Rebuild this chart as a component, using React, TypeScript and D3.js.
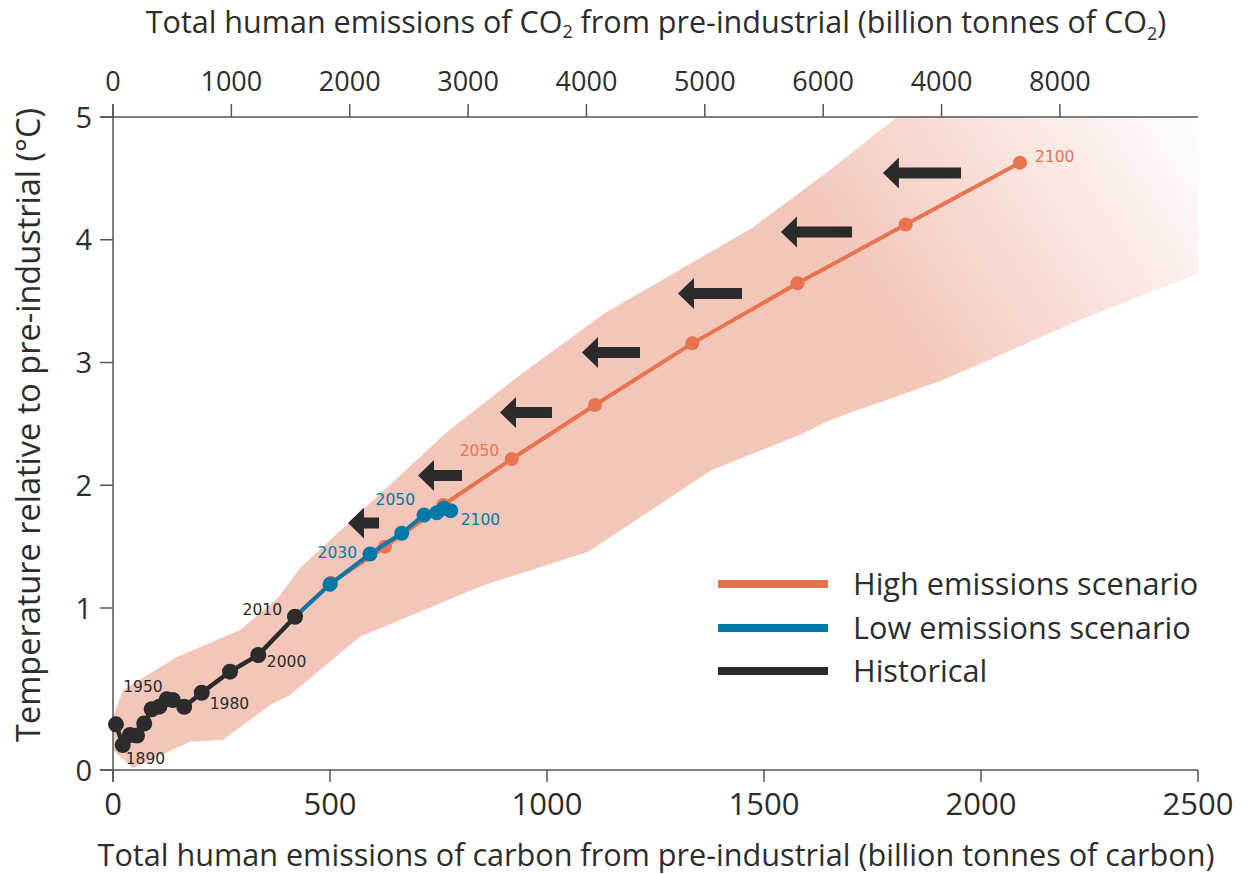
import React from "react";
import * as d3 from "d3";

// ---------- DATA ----------
// Historical (cumulative GtC, temperature °C)
const histYears = [1880, 1890, 1900, 1910, 1920, 1930, 1940, 1950, 1960, 1970, 1980, 1990, 2000, 2010];
const histCarbon = [6.9, 22.4, 39.2, 55.3, 71.9, 89.2, 106.7, 123.7, 137.6, 164, 204.4, 269.6, 334.8, 419.4];
const histTemp = [0.282, 0.154, 0.216, 0.213, 0.287, 0.375, 0.391, 0.436, 0.432, 0.39, 0.477, 0.607, 0.71, 0.946];

// Low emissions scenario (starts at 2010)
const lowYears = [2010, 2020, 2030, 2040, 2050, 2060, 2080, 2100];
const lowCarbon = [419.4, 500, 592.2, 665.2, 716.6, 745.9, 762.7, 778.1];
const lowTemp = [0.946, 1.193, 1.44, 1.609, 1.758, 1.776, 1.812, 1.793];

// High emissions scenario (starts at 2010)
const highYears = [2010, 2020, 2030, 2040, 2050, 2060, 2070, 2080, 2090, 2100];
const highCarbon = [419.4, 502.3, 626.7, 761, 918.7, 1110.6, 1334.8, 1577.2, 1826.5, 2089.9];
const highTemp = [0.946, 1.204, 1.499, 1.839, 2.214, 2.654, 3.156, 3.645, 4.124, 4.628];

// Uncertainty band
const bandUpperCarbon = [0, 23, 147.5, 292.6, 380.2, 430.9, 769.6, 937.8, 1133.6, 1472.4, 1652, 1806.5, 2500];
const bandUpperTemp = [0.327, 0.494, 0.698, 0.864, 1.081, 1.326, 2.434, 2.898, 3.403, 4.096, 4.568, 5.0, 5.0];
const bandLowerCarbon = [0, 46, 177.4, 253.5, 361.8, 407.8, 569, 845.6, 891.7, 1095, 1379.5, 1583, 1652, 1912.4, 2043.8, 2228, 2500];
const bandLowerTemp = [0.123, 0.012, 0.175, 0.185, 0.401, 0.463, 0.823, 1.174, 1.228, 1.459, 2.124, 2.409, 2.532, 2.857, 3.061, 3.346, 3.727];

// Arrows (tip carbon, tail carbon, temperature)
const arrowTip = [541.5, 702.8, 891.7, 1080.6, 1301.8, 1539, 1774];
const arrowTail = [613, 804.1, 1011.5, 1214.3, 1449.3, 1702.8, 1954];
const arrowTemp = [1.692, 2.079, 2.593, 3.081, 3.562, 4.063, 4.544];

// Axes
const bottomTicks = [0, 500, 1000, 1500, 2000, 2500];
const leftTicks = [0, 1, 2, 3, 4, 5];
const topTicks = [0, 1000, 2000, 3000, 4000, 5000, 6000, 7000, 8000];
const topTickLabels = ["0", "1000", "2000", "3000", "4000", "5000", "6000", "4000", "8000"];

const legendLabels = ["High emissions scenario", "Low emissions scenario", "Historical"];

// ---------- STYLE ----------
const ORANGE = "#e8734f";
const BLUE = "#0079a8";
const BLACK = "#2b2b2b";
const BAND = "#f4c6ba";
const AXIS = "#555";
const TEXT = "#2d2d2d";
const FONT = "'Open Sans', 'Noto Sans', sans-serif";
const LABEL_FONT = "'DejaVu Sans', sans-serif";

export default function App() {
  const x = d3.scaleLinear().domain([0, 2500]).range([113, 1198]);
  const y = d3.scaleLinear().domain([0, 1, 5]).range([770, 608, 117]);
  const xCO2 = d3.scaleLinear().domain([0, (2500 * 44) / 12]).range([113, 1198]);

  const line = d3
    .line<[number, number]>()
    .x((d) => x(d[0]))
    .y((d) => y(d[1]));

  const upper: [number, number][] = bandUpperCarbon.map((c, i) => [c, bandUpperTemp[i]]);
  const lower: [number, number][] = bandLowerCarbon.map((c, i) => [c, bandLowerTemp[i]]);
  const bandPath = line([...upper, ...lower.slice().reverse()]) + "Z";

  const hist: [number, number][] = histCarbon.map((c, i) => [c, histTemp[i]]);
  const low: [number, number][] = lowCarbon.map((c, i) => [c, lowTemp[i]]);
  const high: [number, number][] = highCarbon.map((c, i) => [c, highTemp[i]]);

  const histIdx = (yr: number) => histYears.indexOf(yr);
  const lowIdx = (yr: number) => lowYears.indexOf(yr);
  const highIdx = (yr: number) => highYears.indexOf(yr);

  const histLabels = [
    { yr: 1890, dx: 3, dy: 19, anchor: "start" },
    { yr: 1950, dx: -4, dy: -7, anchor: "end" },
    { yr: 1980, dx: 8, dy: 16, anchor: "start" },
    { yr: 2000, dx: 8.5, dy: 12, anchor: "start" },
    { yr: 2010, dx: -13, dy: -2, anchor: "end" },
  ];
  const lowLabels = [
    { yr: 2030, dx: -13, dy: 4, anchor: "end" },
    { yr: 2050, dx: -9, dy: -10, anchor: "end" },
    { yr: 2100, dx: 10, dy: 14, anchor: "start" },
  ];
  const highLabels = [
    { yr: 2050, dx: -12.5, dy: -3, anchor: "end" },
    { yr: 2100, dx: 15, dy: -1, anchor: "start" },
  ];

  const arrowPath = (i: number) => {
    const tx = x(arrowTip[i]);
    const ex = x(arrowTail[i]);
    const cy = y(arrowTemp[i]);
    const headLen = 16;
    const headH = 15.5;
    const shaft = 5.5;
    return `M${tx},${cy} L${tx + headLen},${cy - headH} L${tx + headLen},${cy - shaft} L${ex},${cy - shaft} L${ex},${cy + shaft} L${tx + headLen},${cy + shaft} L${tx + headLen},${cy + headH} Z`;
  };

  const legendColors = [ORANGE, BLUE, BLACK];
  const legendY = [584, 628, 671];

  return (
    <svg
      width={1247}
      height={874}
      style={{ position: "absolute", left: 0, top: 0, display: "block", background: "#fff" }}
      fontFamily={FONT}
    >
      <defs>
        <linearGradient id="bandGrad" gradientUnits="userSpaceOnUse" x1={890} y1={330} x2={1205} y2={115}>
          <stop offset="0" stopColor={BAND} stopOpacity={1} />
          <stop offset="1" stopColor={BAND} stopOpacity={0} />
        </linearGradient>
      </defs>

      {/* band */}
      <path d={bandPath} fill="url(#bandGrad)" />

      {/* arrows */}
      {arrowTip.map((_, i) => (
        <path key={"a" + i} d={arrowPath(i)} fill={BLACK} />
      ))}

      {/* axes */}
      <g stroke={AXIS} strokeWidth={1.5} fill="none">
        <line x1={100} x2={1198} y1={y(0)} y2={y(0)} />
        <line x1={100} x2={1198} y1={y(5)} y2={y(5)} />
        <line x1={x(0)} x2={x(0)} y1={y(5) - 13} y2={y(0) + 12} />
        {bottomTicks.map((t) => (
          <line key={"bt" + t} x1={x(t)} x2={x(t)} y1={y(0)} y2={y(0) + 12} />
        ))}
        {leftTicks.map((t) => (
          <line key={"lt" + t} x1={100} x2={x(0)} y1={y(t)} y2={y(t)} />
        ))}
        {topTicks.map((t) => (
          <line key={"tt" + t} x1={xCO2(t)} x2={xCO2(t)} y1={y(5)} y2={y(5) - 13} />
        ))}
      </g>

      {/* tick labels */}
      <g fill={TEXT} fontSize={31}>
        {bottomTicks.map((t) => (
          <text key={"btl" + t} x={x(t)} y={815} textAnchor="middle">
            {t}
          </text>
        ))}
      </g>
      <g fill={TEXT} fontSize={29}>
        {leftTicks.map((t) => (
          <text key={"ltl" + t} x={92} y={y(t) + 10.5} textAnchor="end">
            {t}
          </text>
        ))}
      </g>
      <g fill={TEXT} fontSize={27}>
        {topTicks.map((t, i) => (
          <text key={"ttl" + t} x={xCO2(t)} y={91} textAnchor="middle">
            {topTickLabels[i]}
          </text>
        ))}
      </g>

      {/* axis titles */}
      <text x={656} y={866} textAnchor="middle" fontSize={30.6} fill={TEXT}>
        Total human emissions of carbon from pre-industrial (billion tonnes of carbon)
      </text>
      <text x={656} y={33} textAnchor="middle" fontSize={30.5} fill={TEXT}>
        Total human emissions of CO
        <tspan fontSize={18} dy={5}>2</tspan>
        <tspan dy={-5}> from pre-industrial (billion tonnes of CO</tspan>
        <tspan fontSize={18} dy={7}>2</tspan>
        <tspan dy={-7}>)</tspan>
      </text>
      <text
        transform={`translate(40,425) rotate(-90)`}
        textAnchor="middle"
        fontSize={32.5}
        fill={TEXT}
      >
        Temperature relative to pre-industrial (°C)
      </text>

      {/* high emissions */}
      <path d={line(high) || ""} fill="none" stroke={ORANGE} strokeWidth={4} />
      {high.slice(1).map((d, i) => (
        <circle key={"h" + i} cx={x(d[0])} cy={y(d[1])} r={7} fill={ORANGE} />
      ))}

      {/* low emissions */}
      <path d={line(low) || ""} fill="none" stroke={BLUE} strokeWidth={4} />
      {low.slice(1).map((d, i) => (
        <circle key={"l" + i} cx={x(d[0])} cy={y(d[1])} r={7.5} fill={BLUE} />
      ))}

      {/* historical */}
      <path d={line(hist) || ""} fill="none" stroke={BLACK} strokeWidth={4.5} />
      {hist.map((d, i) => (
        <circle key={"hi" + i} cx={x(d[0])} cy={y(d[1])} r={8} fill={BLACK} />
      ))}

      {/* data labels */}
      <g fontFamily={LABEL_FONT} fontSize={15.5}>
        {histLabels.map((l) => {
          const d = hist[histIdx(l.yr)];
          return (
            <text key={"hl" + l.yr} x={x(d[0]) + l.dx} y={y(d[1]) + l.dy} textAnchor={l.anchor} fill={BLACK}>
              {l.yr}
            </text>
          );
        })}
        {lowLabels.map((l) => {
          const d = low[lowIdx(l.yr)];
          return (
            <text key={"ll" + l.yr} x={x(d[0]) + l.dx} y={y(d[1]) + l.dy} textAnchor={l.anchor} fill={BLUE}>
              {l.yr}
            </text>
          );
        })}
        {highLabels.map((l) => {
          const d = high[highIdx(l.yr)];
          return (
            <text key={"hgl" + l.yr} x={x(d[0]) + l.dx} y={y(d[1]) + l.dy} textAnchor={l.anchor} fill={ORANGE}>
              {l.yr}
            </text>
          );
        })}
      </g>

      {/* legend */}
      {legendLabels.map((lab, i) => (
        <g key={"lg" + i}>
          <line x1={718} x2={828} y1={legendY[i]} y2={legendY[i]} stroke={legendColors[i]} strokeWidth={8} />
          <text x={853} y={legendY[i] + 11} fontSize={30.7} fill={TEXT}>
            {lab}
          </text>
        </g>
      ))}
    </svg>
  );
}
